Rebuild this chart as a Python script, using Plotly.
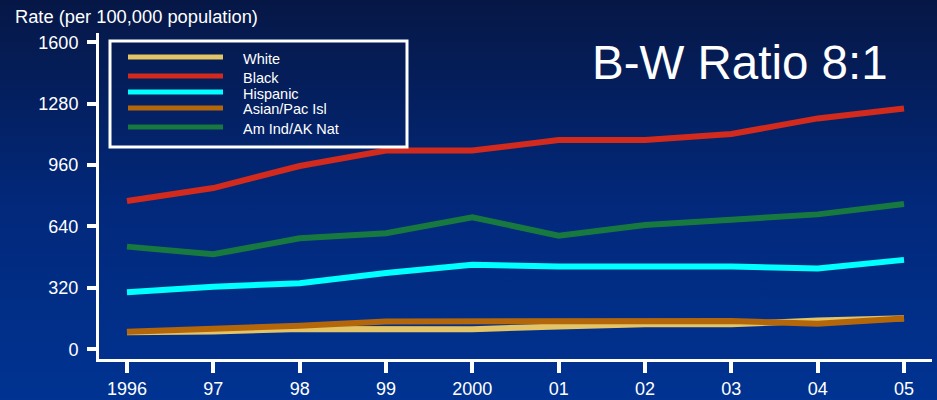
import base64
import plotly.graph_objects as go

# Rates per 100,000 population by race/ethnicity, 1996-2005
years = [1996, 1997, 1998, 1999, 2000, 2001, 2002, 2003, 2004, 2005]
year_labels = ["1996", "97", "98", "99", "2000", "01", "02", "03", "04", "05"]
white = [89, 93, 106, 105, 105, 119, 130, 130, 150, 162]
black = [773, 840, 955, 1036, 1036, 1090, 1090, 1122, 1203, 1255]
hispanic = [297, 326, 344, 398, 440, 431, 431, 431, 421, 466]
asian = [92, 104, 123, 145, 145, 145, 145, 147, 133, 161]
am_ind = [535, 495, 579, 605, 688, 592, 648, 674, 703, 757]
y_ticks = [0, 320, 640, 960, 1280, 1600]

series_names = ["White", "Black", "Hispanic", "Asian/Pac Isl", "Am Ind/AK Nat"]
series_values = [white, black, hispanic, asian, am_ind]
series_colors = ["#E3C467", "#D32A1E", "#00FFFF", "#B3660A", "#17793F"]

W, H = 937, 400
ML, MR, MT, MB = 99, 5, 33, 41
PW, PH = W - ML - MR, H - MT - MB


def px_x(p):
    return (p - ML) / PW


def px_y(p):
    return (H - MB - p) / PH


fig = go.Figure()
for name, vals, col in zip(series_names, series_values, series_colors):
    fig.add_trace(go.Scatter(
        x=years, y=vals, name=name, mode="lines",
        line=dict(color=col, width=6), showlegend=False,
    ))

# vertical navy gradient behind everything
svg = (
    '<svg xmlns="http://www.w3.org/2000/svg" width="10" height="100" preserveAspectRatio="none">'
    '<defs><linearGradient id="g" x1="0" y1="0" x2="0" y2="1">'
    '<stop offset="0" stop-color="#061745"/>'
    '<stop offset="0.5" stop-color="#02287A"/>'
    '<stop offset="1" stop-color="#003392"/>'
    '</linearGradient></defs>'
    '<rect width="10" height="100" fill="url(#g)"/></svg>'
)
bg_uri = "data:image/svg+xml;base64," + base64.b64encode(svg.encode()).decode()
fig.add_layout_image(dict(
    source=bg_uri, xref="paper", yref="paper",
    x=px_x(-2), y=px_y(-2), sizex=px_x(W + 2) - px_x(-2), sizey=px_y(-2) - px_y(H + 2),
    xanchor="left", yanchor="top", sizing="stretch", layer="below",
))

# legend box
shapes = [dict(
    type="rect", xref="paper", yref="paper",
    x0=px_x(110), x1=px_x(407), y0=px_y(41), y1=px_y(147),
    line=dict(color="white", width=3), fillcolor="rgba(0,0,0,0)",
)]
annotations = []
row_line_y = [57, 76, 92, 108, 127]
row_text_y = [59, 78, 94, 109.5, 129]
for name, col, ly, ty in zip(series_names, series_colors, row_line_y, row_text_y):
    shapes.append(dict(
        type="line", xref="paper", yref="paper",
        x0=px_x(128), x1=px_x(223), y0=px_y(ly), y1=px_y(ly),
        line=dict(color=col, width=5),
    ))
    annotations.append(dict(
        text=name, xref="paper", yref="paper", x=px_x(241), y=px_y(ty),
        xanchor="left", yanchor="middle", showarrow=False,
        font=dict(size=14.5, color="white"),
    ))

annotations.append(dict(
    text="Rate (per 100,000 population)", xref="paper", yref="paper",
    x=px_x(13), y=px_y(16), xanchor="left", yanchor="middle", showarrow=False,
    font=dict(size=18.3, color="white"),
))
annotations.append(dict(
    text="B-W Ratio 8:1", xref="paper", yref="paper",
    x=px_x(590), y=px_y(62), xanchor="left", yanchor="middle", showarrow=False,
    font=dict(size=47.5, color="white"),
))

fig.update_layout(
    width=W, height=H,
    margin=dict(l=ML, r=MR, t=MT, b=MB, pad=0, autoexpand=False),
    paper_bgcolor="#003392", plot_bgcolor="rgba(0,0,0,0)",
    font=dict(family="Liberation Sans, Arial, sans-serif", color="white"),
    shapes=shapes, annotations=annotations,
    xaxis=dict(
        range=[1995.676, 2005.324], tickvals=years, ticktext=year_labels,
        showgrid=False, zeroline=False, showline=True, linecolor="white", linewidth=3,
        ticks="outside", ticklen=11, tickwidth=4, tickcolor="white",
        tickfont=dict(size=18, color="white"), ticklabelstandoff=0, automargin=False,
    ),
    yaxis=dict(
        range=[-50.5, 1648], tickvals=y_ticks,
        showgrid=False, zeroline=False, showline=True, linecolor="white", linewidth=3,
        ticks="outside", ticklen=9, tickwidth=4, tickcolor="white",
        tickfont=dict(size=18, color="white"), ticklabelstandoff=5, automargin=False,
    ),
)

fig.write_html("out.html")
